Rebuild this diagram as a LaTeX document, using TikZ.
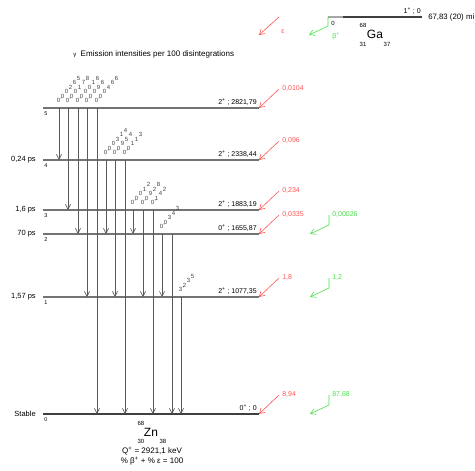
\documentclass[tikz,border=0pt]{standalone}
\usepackage{fontspec}
\setmainfont{Liberation Sans}
\usetikzlibrary{arrows.meta,positioning,calc}
\definecolor{epsred}{RGB}{255,85,85}
\definecolor{betagreen}{RGB}{70,225,70}
\tikzset{
  every picture/.style={line width=0.6pt},
  stxt/.style={inner sep=0pt, font=\fontsize{7}{8}\selectfont},
  slarge/.style={inner sep=0pt, font=\fontsize{8}{9}\selectfont},
  ssmall/.style={inner sep=0pt, font=\fontsize{6}{7}\selectfont},
  sbig/.style={inner sep=0pt, font=\fontsize{12}{13}\selectfont},
  shl/.style={inner sep=0pt, font=\fontsize{7.5}{8}\selectfont},
  snum/.style={inner sep=0pt, font=\fontsize{5.5}{6}\selectfont},
  sred/.style={stxt, text=epsred},
  sgreen/.style={stxt, text=betagreen},
  slevel/.style={draw=black!55, line width=1.1pt},
  sground/.style={draw=black!75, line width=1.6pt},
  sparent/.style={draw=black!75, line width=1.5pt},
  sgamma/.style={draw=black!65, -{Straight Barb[length=5pt,width=5pt]}},
  sgch/.style={inner sep=0pt, font=\fontsize{6}{7}\selectfont, text=black!75},
  seps/.style={draw=epsred, -{Straight Barb[length=5pt,width=6pt]}},
  sbeta/.style={draw=betagreen, -{Straight Barb[length=5pt,width=6pt]}},
}

% gamma intensity written upright, one character after the other up a diagonal
\newcount\gchn
\def\gcomma{,}
\makeatletter
\newcommand\gintens[2]{%
  \gchn=0
  \def\gdo{\@tfor\gc:=}%
  \expandafter\gdo#2\do{%
    \ifx\gc\gcomma
      \node[sgch] at ($(#1)+(4*\the\gchn-1.3,-4.5*\the\gchn+2.5)$) {,};
    \else
      \node[sgch] at ($(#1)+(4*\the\gchn,-4.5*\the\gchn)$) {\gc};
      \advance\gchn by 1
    \fi}}
\makeatother

\begin{document}
\begin{tikzpicture}[x=1pt,y=-1pt]
  \useasboundingbox (0,0) rectangle (475,471);

  % title
  \node[slarge, anchor=west] (ttl) at (73,54) {{\fontsize{6}{7}\selectfont γ}\ \ Emission intensities per 100 disintegrations};

  % parent 68Ga
  \coordinate (pa) at (328,17);
  \coordinate (pm) at (343,17);
  \coordinate (pb) at (422,17);
  \draw[sparent, draw=black!35] (pa) -- (pm);
  \draw[sparent] (pm) -- (pb);
  \node[stxt, above left=2pt and 1pt of pb] (pspin) {1\textsuperscript{+} ; 0};
  \node[stxt, font=\fontsize{7.8}{9}\selectfont, right=6pt of pb] (phl) {67,83 (20) mi};
  \node[ssmall] (pA) at (363,25) {68};
  \node[sbig] (pel) at (375,34) {Ga};
  \node[ssmall] (pZ) at (363,44) {31};
  \node[ssmall] (pN) at (387,44) {37};
  \node[ssmall, anchor=west] (p0) at (331,23) {0};
  \coordinate (pk) at (328,26);
  \coordinate (pt) at (309,35);
  \draw[sbeta] (pa) -- (pk) -- (pt);
  \node[sgreen, anchor=west] (pbeta) at (332,36) {β\textsuperscript{+}};
  \coordinate (pe) at (279,17);
  \coordinate (pet) at (259,35);
  \draw[seps] (pe) -- (pet);
  \node[sred, anchor=west] (peps) at (281,32) {ε};

  % levels of 68Zn
  \foreach \n/\y in {5/108,4/160,3/210,2/234,1/297,0/414}{
    \coordinate (l\n) at (43,\y);
    \coordinate (r\n) at (259,\y);
    \node[snum, below right=3pt and 1pt of l\n] (num\n) {\n};
    \coordinate (e\n) at ($(r\n)+(20,-19)$);
  }
  \foreach \n in {5,4,3,2,1}
    \draw[slevel] (l\n) -- (r\n);
  \draw[sground] (l0) -- (r0);

  \node[stxt, above left=2pt and 2pt of r5] (s5) {2\textsuperscript{+} ; 2821,79};
  \node[stxt, above left=2pt and 2pt of r4] (s4) {2\textsuperscript{+} ; 2338,44};
  \node[stxt, above left=2pt and 2pt of r3] (s3) {2\textsuperscript{+} ; 1883,19};
  \node[stxt, above left=2pt and 2pt of r2] (s2) {0\textsuperscript{+} ; 1655,87};
  \node[stxt, above left=2pt and 2pt of r1] (s1) {2\textsuperscript{+} ; 1077,35};
  \node[stxt, above left=2pt and 2pt of r0] (s0) {0\textsuperscript{+} ; 0};

  \node[shl, left=7pt of l4] (h4) {0,24 ps};
  \node[shl, left=7pt of l3] (h3) {1,6 ps};
  \node[shl, left=7pt of l2] (h2) {70 ps};
  \node[shl, left=7pt of l1] (h1) {1,57 ps};
  \node[shl, left=7pt of l0] (h0) {Stable};

  % epsilon feeding
  \foreach \n/\v in {5/{0,0104},4/{0,096},3/{0,234},2/{0,0335},1/{1,8},0/{8,94}}{
    \draw[seps] (e\n) -- (r\n);
    \node[sred, right=3pt of e\n] (ev\n) {\v};
  }

  % beta+ feeding
  \foreach \n/\v in {2/{0,00026},1/{1,2},0/{87,68}}{
    \coordinate (b\n) at ($(r\n)+(70,-19)$);
    \coordinate (k\n) at ($(r\n)+(70,-9)$);
    \coordinate (t\n) at ($(r\n)+(51,0)$);
    \draw[sbeta] (b\n) -- (k\n) -- (t\n);
    \node[sgreen, right=3pt of b\n] (bv\n) {\v};
  }

  % gamma transitions
  \foreach \o/\a/\b/\t in {16/5/4/{0,00265},25/5/3/{0,00178},35/5/2/{0,00016},
      44/5/1/{0,0096},54/5/0/{0,00466},63/4/2/{0,00314},72/4/1/{0,0954},
      82/4/0/{0,0113},90/3/2/{0,0012},100/3/1/{0,0928},110/3/0/{0,142},
      119/2/1/{0,0343},129/2/0/{},138/1/0/{3,235}}{
    \draw[sgamma] ($(l\a)+(\o,0)$) -- ($(l\b)+(\o,0)$);
    \coordinate (gs\o) at ($(l\a)+(\o-0.5,-7.5)$);
    \gintens{gs\o}{\t}
  }

  % daughter 68Zn
  \node[ssmall] (dA) at (141,423) {68};
  \node[sbig] (del) at (151,432) {Zn};
  \node[ssmall] (dZ) at (141,441) {30};
  \node[ssmall] (dN) at (163,441) {38};
  \node[slarge] (dq) at (152,451) {Q\textsuperscript{+} = 2921,1 keV};
  \node[slarge] (dp) at (152,461) {\% β\textsuperscript{+} + \% ε = 100};
\end{tikzpicture}
\end{document}
